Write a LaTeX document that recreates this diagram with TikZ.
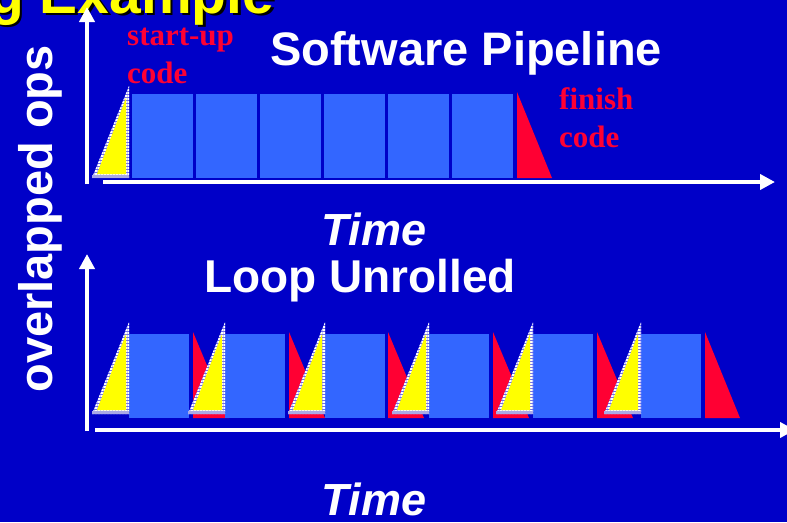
\documentclass[tikz,border=0pt]{standalone}
\usepackage{fontspec}
\setmainfont{Liberation Serif}
\newfontfamily\arialf{Liberation Sans}
\newfontfamily\serifb{Liberation Serif}
\usetikzlibrary{arrows.meta,patterns.meta}
\definecolor{bg}{RGB}{0,0,200}
\definecolor{boxblue}{RGB}{51,102,255}
\definecolor{codered}{RGB}{255,0,51}
\definecolor{yel}{RGB}{255,255,0}
\definecolor{hatchbase}{RGB}{110,110,235}
\definecolor{lightband}{RGB}{170,170,230}
\newcommand\ytri[3]{%
 \fill[hatchbase] ({#1-37},#2) -- (#1,#2) -- (#1,#3) -- cycle;
 \fill[pattern={Lines[angle=0,distance=3pt,line width=1.3pt]},pattern color=white] ({#1-37},#2) -- (#1,#2) -- (#1,#3) -- cycle;
 \fill[yel] ({#1-32},{#2-4}) -- ({#1-3},{#2-4}) -- ({#1-3},{#3+12}) -- cycle;
 \fill[lightband] ({#1-37},{#2-3}) rectangle (#1,#2);
}
\newcommand\rtri[4]{%
 \fill[codered] (#1,#2) -- (#1,#3) -- ({#1+#4},#3) -- cycle;
}
\tikzset{
 axis/.style={white, line width=4.5pt, -{Triangle[width=15pt,length=15pt]}},
 big/.style={white, inner sep=0, font=\arialf\bfseries\fontsize{47}{50}\selectfont},
 redtext/.style={codered, inner sep=0, align=left, font=\serifb\bfseries\fontsize{31}{38}\selectfont},
}
\begin{document}
\begin{tikzpicture}[x=1pt,y=-1pt]
\useasboundingbox (0,0) rectangle (787,522);
\clip (0,0) rectangle (787,522);
\fill[bg] (0,0) rectangle (787,522);

% title (clipped at top)
\node[anchor=base west, inner sep=0, text=black, font=\arialf\bfseries\fontsize{57}{60}\selectfont] (titleshadow) at (-8.5,15.5) {g Example};
\node[anchor=base west, inner sep=0, text=yel, font=\arialf\bfseries\fontsize{57}{60}\selectfont] (title) at (-11,13) {g Example};

% ---- software pipeline ----
\foreach \x in {132,196,260,324,388,452} {
  \fill[boxblue] (\x,94) rectangle ++(61,84);
}
\rtri{517}{92}{178}{35}
\ytri{129}{178}{86}

% ---- loop unrolled ----
\foreach \x in {193,289,388,493,597} { \rtri{\x}{332}{418}{36} }
\rtri{705}{332}{418}{35}
\foreach \x in {129,225,325,429,533,641} {
  \fill[boxblue] (\x,334) rectangle ++(60,84);
}
\foreach \x in {129,225,325,429,533,641} { \ytri{\x}{414}{322} }

% axes
\coordinate (v1s) at (87,184); \coordinate (v1e) at (87,7);
\coordinate (h1s) at (103,182); \coordinate (h1e) at (775,182);
\coordinate (v2s) at (87,431); \coordinate (v2e) at (87,254);
\coordinate (h2s) at (95,430); \coordinate (h2e) at (795,430);
\draw[axis] (v1s) -- (v1e);
\draw[axis] (h1s) -- (h1e);
\draw[axis] (v2s) -- (v2e);
\draw[axis] (h2s) -- (h2e);

% texts
\node[big, anchor=base west] (swp) at (270,65) {Software Pipeline};
\node[big, anchor=base, font=\arialf\bfseries\itshape\fontsize{45}{50}\selectfont] (time1) at (374,245) {Time};
\node[big, anchor=base, font=\arialf\bfseries\fontsize{46}{50}\selectfont] (lu) at (360,292) {Loop Unrolled};
\node[big, anchor=base, font=\arialf\bfseries\itshape\fontsize{45}{50}\selectfont] (time2) at (374,515) {Time};
\node[big, anchor=base, rotate=90] (ops) at (52,219) {overlapped ops};
\node[redtext, anchor=base west] (startup) at (127,83) {start-up\\code};
\node[redtext, anchor=base west] (finish) at (559,147) {finish\\code};
\end{tikzpicture}
\end{document}
